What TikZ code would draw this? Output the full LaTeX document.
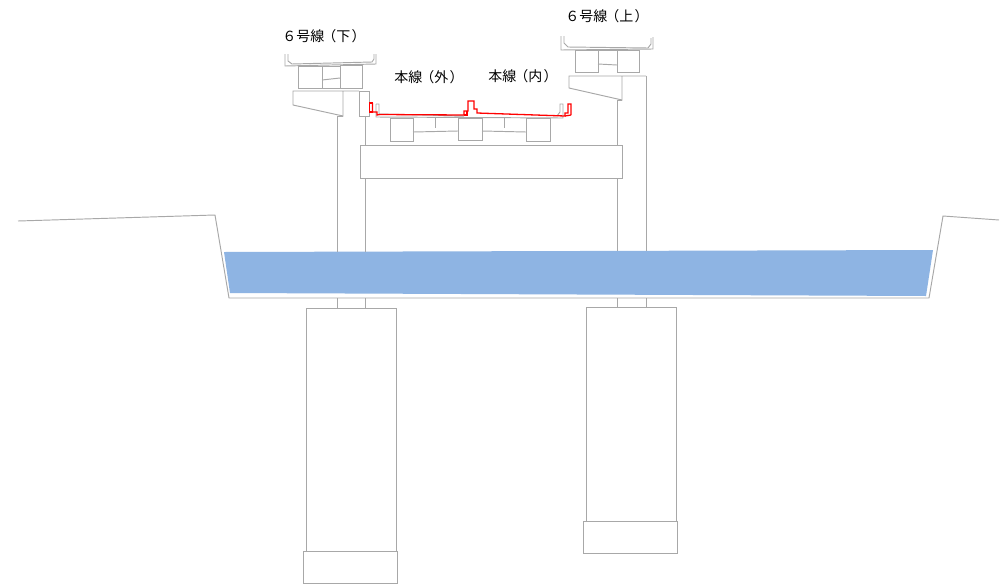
\documentclass[tikz,border=0pt]{standalone}
\usepackage{fontspec}
\newfontfamily\jpfont{Noto Sans CJK JP}[Scale=1]
\definecolor{linegray}{HTML}{A8A8A8}
\definecolor{water}{HTML}{8EB4E3}
\tikzset{
  struct/.style={draw=linegray,line width=0.95pt,line join=miter},
  redline/.style={draw=red,line width=1.3pt},
  label/.style={font=\jpfont\fontsize{14pt}{14pt}\selectfont,inner sep=0pt,text=black}
}
\newcommand{\lp}{\hspace{-0.15em}（}
\newcommand{\rp}{\hspace{0.1em}）\hspace{-0.45em}}
\begin{document}
\begin{tikzpicture}[x=1pt,y=-1pt]
\useasboundingbox[fill=white] (0,0) rectangle (1007,584);
% ground and river bed
\draw[struct] (18,221) -- (215,215) -- (229,298) -- (929,298) -- (943,216) -- (999,220);
% water
\fill[water] (224,252) -- (933,250) -- (926,296) -- (230,293) -- cycle;
% piers
\draw[struct] (337,116) -- (337,252) (337,298) -- (337,308);
\draw[struct] (365,116) -- (365,252) (365,298) -- (365,308);
\draw[struct] (617,100) -- (617,251) (617,298) -- (617,307);
\draw[struct] (646,76) -- (646,251) (646,298) -- (646,307);
% foundations
\draw[struct] (306,308) rectangle (396,551);
\draw[struct] (303,551) rectangle (397,583);
\draw[struct] (586,307) rectangle (676,521);
\draw[struct] (583,521) rectangle (677,553);
% main cap beam
\draw[struct,fill=white] (360,145) rectangle (622,178);
% line 6 down
\draw[struct] (285,54) -- (285,66) -- (376,64) -- (376,54);
\draw[struct] (288,54) -- (288,61) -- (292,64) -- (372,62) -- (374,59) -- (374,54);
\draw[struct] (298,66) rectangle (322,88);
\draw[struct] (340,65) rectangle (362,88);
\draw[struct] (322,80) -- (340,78);
\draw[struct] (322,66) -- (340,66);
\draw[struct] (298,88) -- (362,88);
\draw[struct] (343,91) -- (293,91) -- (293,105) -- (343,116) -- (343,91) -- (359,91);
\draw[struct] (337,116) -- (343,116);
\draw[struct] (359,91) rectangle (369,116);
% line 6 up
\draw[struct] (561,36) -- (561,50) -- (653,49) -- (653,37);
\draw[struct] (564,36) -- (564,43) -- (568,47) -- (648,48) -- (651,44) -- (651,38);
\draw[struct] (575,50) rectangle (598,72);
\draw[struct] (617,50) rectangle (639,72);
\draw[struct] (598,64) -- (617,65);
\draw[struct] (598,50) -- (617,50);
\draw[struct] (622,76) -- (569,76) -- (569,88) -- (622,100) -- (622,76) -- (646,76);
\draw[struct] (617,100) -- (622,100);
% main deck
\draw[struct] (376,104) -- (379,104) -- (379,114) -- (464,116) (376,104) -- (376,117) -- (563,118) -- (563,104) -- (560,104) -- (560,112) -- (557,116);
\draw[struct] (390,118) rectangle (413,141);
\draw[struct] (458,118) rectangle (482,140);
\draw[struct] (526,118) rectangle (550,141);
\draw[struct] (413,132) -- (458,131);
\draw[struct] (482,131) -- (526,132);
\draw[struct] (435,118) -- (435,128);
\draw[struct] (504,118) -- (504,128);
% overlay in red
\draw[redline] (372.5,103) -- (372.5,112) -- (377,112) -- (377,115) -- (380,114.5) -- (464,115);
\draw[redline] (372.5,103) -- (369.5,103) -- (369.5,112) -- (372.5,112);
\draw[redline] (464,115) -- (464,111) -- (468,111) -- (468,101) -- (474,101) -- (474,109) -- (477,109) -- (477,113) -- (565,116) -- (565,113) -- (568,113) -- (568,104) -- (571,104) -- (571,115);
\draw[redline] (467,111) -- (467,115) -- (464,115);
\draw[redline] (565,116) -- (571,115);
% labels
\node[label] (a) at (324,36) {６号線\lp 下\rp};
\node[label] (b) at (429,77) {本線\lp 外\rp};
\node[label] (c) at (523,76) {本線\lp 内\rp};
\node[label] (d) at (607,16) {６号線\lp 上\rp};
\end{tikzpicture}
\end{document}
